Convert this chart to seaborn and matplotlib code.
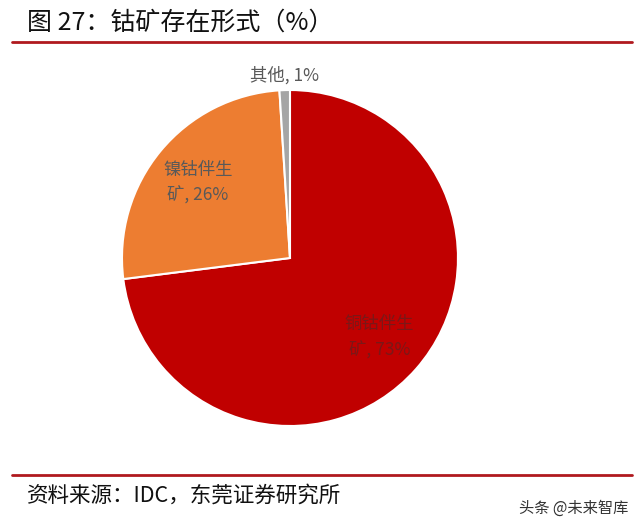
import matplotlib
matplotlib.use("Agg")
import matplotlib.pyplot as plt
import seaborn as sns
import numpy as np

# Data
categories = ["铜钴伴生\n矿, 73%", "镍钴伴生\n矿, 26%", "其他, 1%"]
values = [73, 26, 1]
colors_hex = ["#C00000", "#ED7D31", "#A5A5A5"]
label_colors = ["#7a1818", "#595959", "#595959"]
title = "图 27：钴矿存在形式（%）"
source = "资料来源：IDC，东莞证券研究所"
watermark = "头条 @未来智库"

sns.set_theme(style="white")
plt.rcParams["font.family"] = ["Noto Sans CJK SC", "DejaVu Sans"]

fig = plt.figure(figsize=(6.4, 5.31), dpi=100)
palette = sns.color_palette(colors_hex)

ax = fig.add_axes([0.1906, 0.1977, 0.525, 0.6328])
wedges, _ = ax.pie(values, colors=palette, startangle=90, counterclock=False,
                   wedgeprops=dict(edgecolor="white", linewidth=1.5))
ax.set_xlim(-1, 1)
ax.set_ylim(-1, 1)
ax.set_aspect("equal")
ax.axis("off")

for w, lab, v, c in zip(wedges, categories, values, label_colors):
    th = np.deg2rad((w.theta1 + w.theta2) / 2)
    r = 1.09 if v < 5 else 0.71
    ax.text(r * np.cos(th), r * np.sin(th), lab, ha="center", va="center",
            fontsize=12.5, color=c, linespacing=1.45)

# Title and rules
fig.text(27 / 640, 1 - 23 / 531, title, fontsize=18, fontweight="medium",
         ha="left", va="center", color="#111111")
fig.add_artist(plt.Line2D([12 / 640, 632 / 640], [1 - 42 / 531, 1 - 42 / 531],
                          color="#b0191e", lw=2))
fig.add_artist(plt.Line2D([12 / 640, 632 / 640], [1 - 475 / 531, 1 - 475 / 531],
                          color="#b0191e", lw=2))
fig.text(27 / 640, 1 - 496 / 531, source, fontsize=15.5, fontweight="medium",
         ha="left", va="center", color="#111111")
fig.text(628 / 640, 1 - 508 / 531, watermark, fontsize=11, ha="right", va="center", color="#333333")

fig.savefig("out.png", dpi=100)
